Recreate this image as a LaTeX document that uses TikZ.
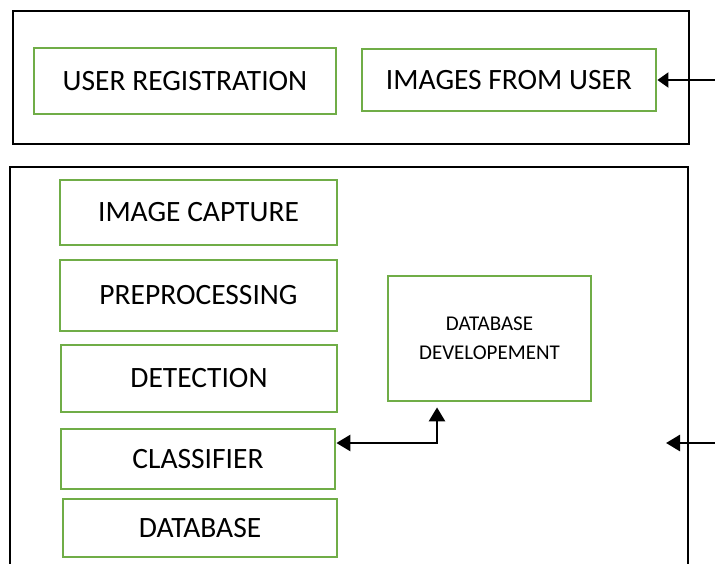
\documentclass[tikz,border=0pt]{standalone}
\usepackage{fontspec}
\setmainfont{Carlito}
\usetikzlibrary{arrows.meta}
\definecolor{boxgreen}{RGB}{112,173,71}

\begin{document}
\begin{tikzpicture}[x=1pt, y=-1pt, >={Triangle[length=14pt, width=16pt]},
  main/.style = {draw=boxgreen, line width=2.8pt, inner sep=0pt, font=\fontsize{29.5}{32}\selectfont},
  frame/.style = {draw=black, line width=1.6pt, inner sep=0pt},
  link/.style = {line width=2.6pt, ->}]

\useasboundingbox (0, 0) rectangle (715, 564);

% outer frames
\node[frame, minimum width=676pt, minimum height=133pt] (F1) at (351, 77.5) {};
\node[frame, minimum width=678pt, minimum height=453pt] (F2) at (349, 393.5) {};

\node[main, minimum width=302pt, minimum height=66pt] (U1) at (185, 81) {USER REGISTRATION};
\node[main, minimum width=294pt, minimum height=62pt] (U2) at (509, 80) {IMAGES FROM USER};

\node[main, minimum width=277pt, minimum height=65pt] (S1) at (198.5, 212.5) {IMAGE CAPTURE};
\node[main, minimum width=277pt, minimum height=71pt] (S2) at (198.5, 295.5) {PREPROCESSING};
\node[main, minimum width=276pt, minimum height=67pt] (S3) at (199, 378.5) {DETECTION};
\node[main, minimum width=274pt, minimum height=60pt] (S4) at (198, 459) {CLASSIFIER};
\node[main, minimum width=274pt, minimum height=58pt] (S5) at (200, 528) {DATABASE};

\node[main, minimum width=203pt, minimum height=125pt, align=center,
      font=\fontsize{21}{28.5}\selectfont] (D1) at (489.5, 338.5) {DATABASE\\DEVELOPEMENT};

\coordinate (E1) at (715, 80);
\coordinate (E2) at (715, 443);
\coordinate (E3) at (666, 443);
\coordinate (K1) at ([yshift=16pt]S4.east);
\coordinate (K2) at ([xshift=-52.5pt, yshift=-5pt]D1.south);

\draw[line width=2pt, -{Triangle[length=11pt, width=15pt]}] (E1) -- (U2.east);
\draw[link] (E2) -- (E3);
\draw[link, <->] (K1) -| (K2);

\end{tikzpicture}
\end{document}
